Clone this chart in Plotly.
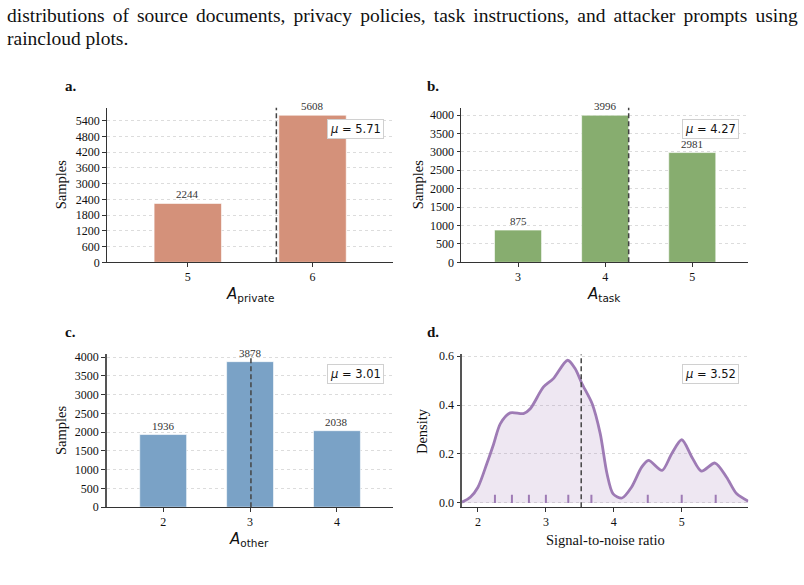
import plotly.graph_objects as go

# ---------------- data ----------------
priv_cats = [5, 6]
priv_vals = [2244, 5608]
priv_mean = 5.71

task_cats = [3, 4, 5]
task_vals = [875, 3996, 2981]
task_mean = 4.27

other_cats = [2, 3, 4]
other_vals = [1936, 3878, 2038]
other_mean = 3.01

snr_x = [1.765, 1.887, 2.0, 2.13, 2.23, 2.33, 2.475, 2.67, 2.77, 2.965, 3.11, 3.32,
         3.43, 3.53, 3.68, 3.80, 3.90, 3.99, 4.12, 4.26, 4.41, 4.51, 4.71, 4.85,
         5.00, 5.15, 5.29, 5.49, 5.66, 5.81, 5.98]
snr_density = [0.003, 0.023, 0.064, 0.16, 0.24, 0.324, 0.368, 0.365, 0.385, 0.474, 0.508, 0.583,
               0.549, 0.488, 0.406, 0.283, 0.119, 0.037, 0.02, 0.064, 0.146, 0.174, 0.133, 0.20,
               0.258, 0.187, 0.13, 0.163, 0.105, 0.037, 0.007]
snr_rug = [2.25, 2.5, 2.75, 3.0, 3.33, 3.67, 4.5, 5.0, 5.5]
snr_mean = 3.52

caption = ["distributions of source documents, privacy policies, task instructions, and attacker prompts using",
           "raincloud plots."]

W, H = 804, 585

def fx(px):
    return px / W

def fy(py):
    return 1 - py / H

SERIF = "Liberation Serif"
SANS = "DejaVu Sans"
AXC = "#333333"

fig = go.Figure()

panels = [
    ("a", "x", "y", (106.7, 393, 105, 262.7)),
    ("b", "x2", "y2", (461, 748, 105, 262.7)),
    ("c", "x3", "y3", (106.7, 393, 356.7, 512.7)),
    ("d", "x4", "y4", (462, 748.3, 356.7, 512.7)),
]

bar_sets = [
    (priv_cats, priv_vals, "#D4917A", "x", "y"),
    (task_cats, task_vals, "#87AD6F", "x2", "y2"),
    (other_cats, other_vals, "#7AA2C6", "x3", "y3"),
]
for cats, vals, col, xa, ya in bar_sets:
    fig.add_trace(go.Bar(x=cats, y=vals, width=0.54, marker=dict(color=col, line=dict(color="white", width=0.6)),
                         xaxis=xa, yaxis=ya, showlegend=False, hoverinfo="skip"))
    for c, v in zip(cats, vals):
        fig.add_annotation(x=c, y=v, xref=xa, yref=ya, text=str(v), showarrow=False,
                           yanchor="bottom", yshift=1, font=dict(family=SERIF, size=11, color="#333"))

PURPLE = "#9E7BB5"
fig.add_trace(go.Scatter(x=snr_x, y=snr_density, mode="lines",
                         line=dict(color=PURPLE, width=2.8, shape="spline", smoothing=0.8),
                         fill="tozeroy", fillcolor="rgba(158,123,181,0.18)", xaxis="x4", yaxis="y4",
                         showlegend=False, hoverinfo="skip"))
rx, ry = [], []
for v in snr_rug:
    rx += [v, v, None]
    ry += [0, 0.033, None]
fig.add_trace(go.Scatter(x=rx, y=ry, mode="lines", line=dict(color=PURPLE, width=2), xaxis="x4", yaxis="y4",
                         showlegend=False, hoverinfo="skip"))

means = [(priv_mean, "x", "y"), (task_mean, "x2", "y2"), (other_mean, "x3", "y3"), (snr_mean, "x4", "y4")]
box_tops = [0.925, 0.925, 0.935, 0.935]
for (m, xa, ya), bt in zip(means, box_tops):
    fig.add_shape(type="line", x0=m, x1=m, y0=0, y1=1, xref=xa, yref=ya + " domain",
                  line=dict(color="#444", width=1.5, dash="5px,3px"))
    fig.add_annotation(x=0.968, y=bt, xref=xa + " domain", yref=ya + " domain", xanchor="right", yanchor="top",
                       text="<i>μ</i> = %.2f" % m, showarrow=False, bgcolor="white", bordercolor="#d0d0d0",
                       borderwidth=1, borderpad=2, font=dict(family=SANS, size=11.5, color="#111"))

ranges = {
    "x": ([4.35, 6.645], priv_cats),
    "x2": ([2.345, 5.64], task_cats),
    "x3": ([1.35, 4.645], other_cats),
    "x4": ([1.765, 5.98], [2, 3, 4, 5]),
}
yranges = {
    "y": ([0, 5888.4], list(range(0, 5401, 600)), None),
    "y2": ([0, 4195.8], list(range(0, 4001, 500)), None),
    "y3": ([0, 4071.9], list(range(0, 4001, 500)), None),
    "y4": ([-0.0175, 0.607], [0.0, 0.2, 0.4, 0.6], ".1f"),
}
left_spine = {"y": (AXC, 1), "y2": (AXC, 1), "y3": ("#555555", 2), "y4": ("#555555", 2)}

TICKFONT = dict(family=SERIF, size=12, color="#111")

def axis_common():
    return dict(showline=True, linecolor=AXC, linewidth=1, ticks="outside", ticklen=3.5, tickwidth=1,
                tickcolor=AXC, zeroline=False)

layout = dict(width=W, height=H, margin=dict(l=0, r=0, t=0, b=0), plot_bgcolor="white", paper_bgcolor="white",
              showlegend=False, font=dict(family=SERIF, size=13, color="#222"))
for name, xa, ya, (x0, x1, y0, y1) in panels:
    xk = "xaxis" + xa[1:]
    yk = "yaxis" + ya[1:]
    xr, xt = ranges[xa]
    yr, yt, yf = yranges[ya]
    layout[xk] = dict(domain=[fx(x0), fx(x1)], anchor=ya, range=xr, tickmode="array", tickvals=xt,
                      showgrid=False, **axis_common())
    yd = dict(domain=[fy(y1), fy(y0)], anchor=xa, range=yr, tickmode="array", tickvals=yt, showgrid=True,
              gridcolor="#dcdcdc", griddash="dot", gridwidth=1, **axis_common())
    yd["linecolor"], yd["linewidth"] = left_spine[ya]
    if yf:
        yd["tickformat"] = yf
    layout[yk] = yd
fig.update_layout(**layout)
fig.update_xaxes(tickfont=TICKFONT)
fig.update_yaxes(tickfont=TICKFONT)

letters = [("a.", 63, 83), ("b.", 425, 83), ("c.", 63, 334), ("d.", 425, 334)]
for t, px, py in letters:
    fig.add_annotation(x=fx(px), y=fy(py), xref="paper", yref="paper", xanchor="left", yanchor="middle",
                       text="<b>%s</b>" % t, showarrow=False, font=dict(family=SERIF, size=15, color="#111"))

ytitles = [("Samples", 61, 184), ("Samples", 418, 184), ("Samples", 61, 435), ("Density", 422, 435)]
for t, px, py in ytitles:
    fig.add_annotation(x=fx(px), y=fy(py), xref="paper", yref="paper", xanchor="center", yanchor="middle",
                       text=t, textangle=-90, showarrow=False, font=dict(family=SERIF, size=14.5, color="#111"))

xtitles = [("<i>A</i><sub>private</sub>", 250, 296, SANS, 15), ("<i>A</i><sub>task</sub>", 604, 296, SANS, 15),
           ("<i>A</i><sub>other</sub>", 249, 546, SANS, 15), ("Signal-to-noise ratio", 605, 546, SERIF, 14.5)]
for t, px, py, fam, sz in xtitles:
    fig.add_annotation(x=fx(px), y=fy(py), xref="paper", yref="paper", xanchor="center", yanchor="middle",
                       text=t, showarrow=False, font=dict(family=fam, size=sz, color="#111"))

# caption at top: first line justified (slightly wider inter-word gaps)
gap = " \u200a\u200a"
lines = [caption[0].replace(" ", gap), caption[1]]
for i, line in enumerate(lines):
    fig.add_annotation(x=fx(5), y=fy(11 + 23.5 * i), xref="paper", yref="paper", xanchor="left", yanchor="middle",
                       text=line, showarrow=False, font=dict(family=SERIF, size=19.5, color="#111"))

fig.write_html("out.html")
